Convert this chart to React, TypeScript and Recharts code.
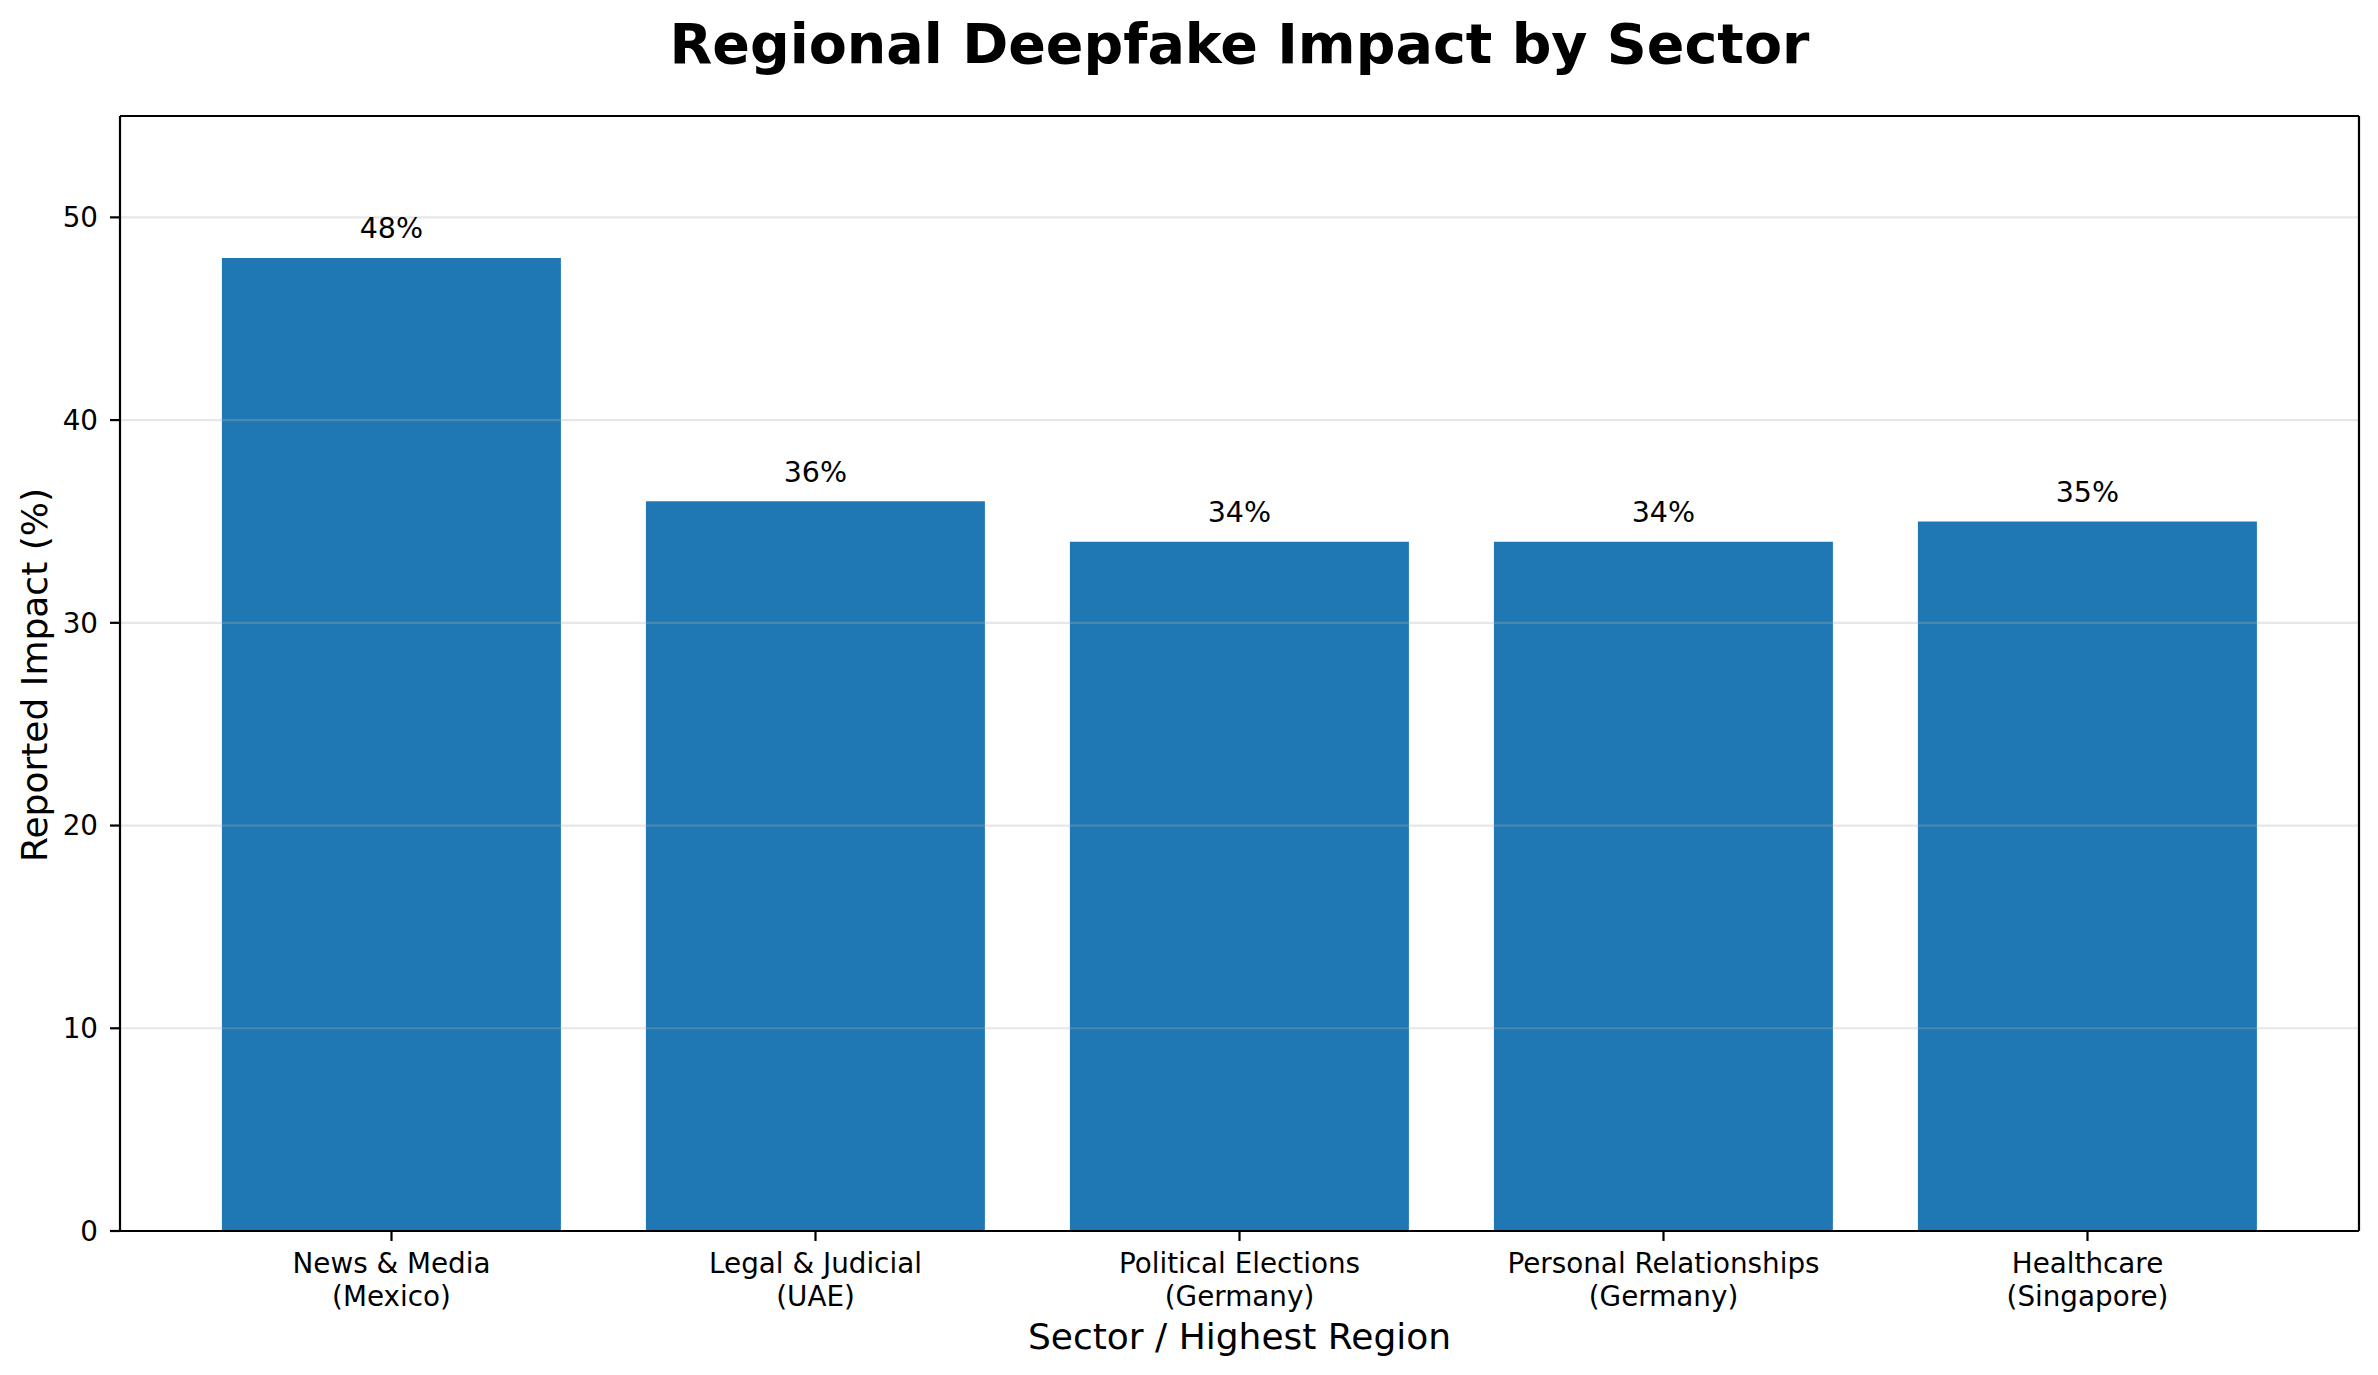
import React from 'react';
import { BarChart, Bar, XAxis, YAxis, ReferenceLine, LabelList } from 'recharts';

const sectors = ['News & Media', 'Legal & Judicial', 'Political Elections', 'Personal Relationships', 'Healthcare'];
const regions = ['Mexico', 'UAE', 'Germany', 'Germany', 'Singapore'];
const impact = [48, 36, 34, 34, 35];
const yTicks = [0, 10, 20, 30, 40, 50];
const gridLines = [10, 20, 30, 40, 50];

const data = sectors.map((s, i) => ({ sector: s, region: regions[i], impact: impact[i] }));

const W = 2378;
const H = 1375;
const FONT = '"DejaVu Sans", sans-serif';

const SectorTick = (props: any) => {
    const { x, y, payload, index } = props;
    return (
        <text x={x} y={y} textAnchor="middle" fontFamily={FONT} fontSize={27.8} fill="#000">
            <tspan x={x} dy={32}>{payload.value}</tspan>
            <tspan x={x} dy={33}>({regions[index]})</tspan>
        </text>
    );
};

export default function App() {
    return (
        <div style={{ position: 'absolute', left: 0, top: 0, width: W, height: H, background: '#fff' }}>
            <BarChart
                width={W}
                height={H}
                data={data}
                margin={{ top: 115, right: 18, bottom: 0, left: 0 }}
                barCategoryGap="10%"
                style={{ fontFamily: FONT }}
            >
                <XAxis
                    dataKey="sector"
                    height={144}
                    padding={{ left: 59.5, right: 59.5 }}
                    tick={<SectorTick />}
                    tickSize={10}
                    tickMargin={0}
                    interval={0}
                    axisLine={{ stroke: '#000', strokeWidth: 2.2 }}
                    tickLine={{ stroke: '#000', strokeWidth: 2.2 }}
                />
                <XAxis
                    xAxisId="top"
                    dataKey="sector"
                    orientation="top"
                    height={1}
                    tick={false}
                    tickLine={false}
                    axisLine={{ stroke: '#000', strokeWidth: 2.2 }}
                />
                <YAxis
                    width={120}
                    domain={[0, 55]}
                    ticks={yTicks}
                    type="number"
                    tickSize={10}
                    tickMargin={12}
                    tick={{ fill: '#000', fontSize: 27.8, fontFamily: FONT }}
                    axisLine={{ stroke: '#000', strokeWidth: 2.2 }}
                    tickLine={{ stroke: '#000', strokeWidth: 2.2 }}
                />
                <YAxis
                    yAxisId="right"
                    orientation="right"
                    width={1}
                    domain={[0, 55]}
                    type="number"
                    tick={false}
                    tickLine={false}
                    axisLine={{ stroke: '#000', strokeWidth: 2.2 }}
                />
                <Bar dataKey="impact" fill="#1f77b4" isAnimationActive={false}>
                    <LabelList
                        dataKey="impact"
                        position="top"
                        offset={19.5}
                        formatter={(v: any) => `${v}%`}
                        fill="#000"
                        fontSize={28.5}
                        fontFamily={FONT}
                    />
                </Bar>
                {gridLines.map((g) => (
                    <ReferenceLine key={g} y={g} stroke="#b0b0b0" strokeOpacity={0.3} strokeWidth={2.2} />
                ))}
            </BarChart>
            <svg width={W} height={H} style={{ position: 'absolute', left: 0, top: 0, pointerEvents: 'none' }}>
                <text x={1239.5} y={63} textAnchor="middle" fontFamily={FONT} fontWeight="bold" fontSize={55.5} fill="#000">
                    Regional Deepfake Impact by Sector
                </text>
                <text x={1239.5} y={1349} textAnchor="middle" fontFamily={FONT} fontSize={36} fill="#000">
                    Sector / Highest Region
                </text>
                <text
                    x={47}
                    y={675}
                    textAnchor="middle"
                    transform="rotate(-90 47 675)"
                    fontFamily={FONT}
                    fontSize={36}
                    fill="#000"
                >
                    Reported Impact (%)
                </text>
            </svg>
        </div>
    );
}
